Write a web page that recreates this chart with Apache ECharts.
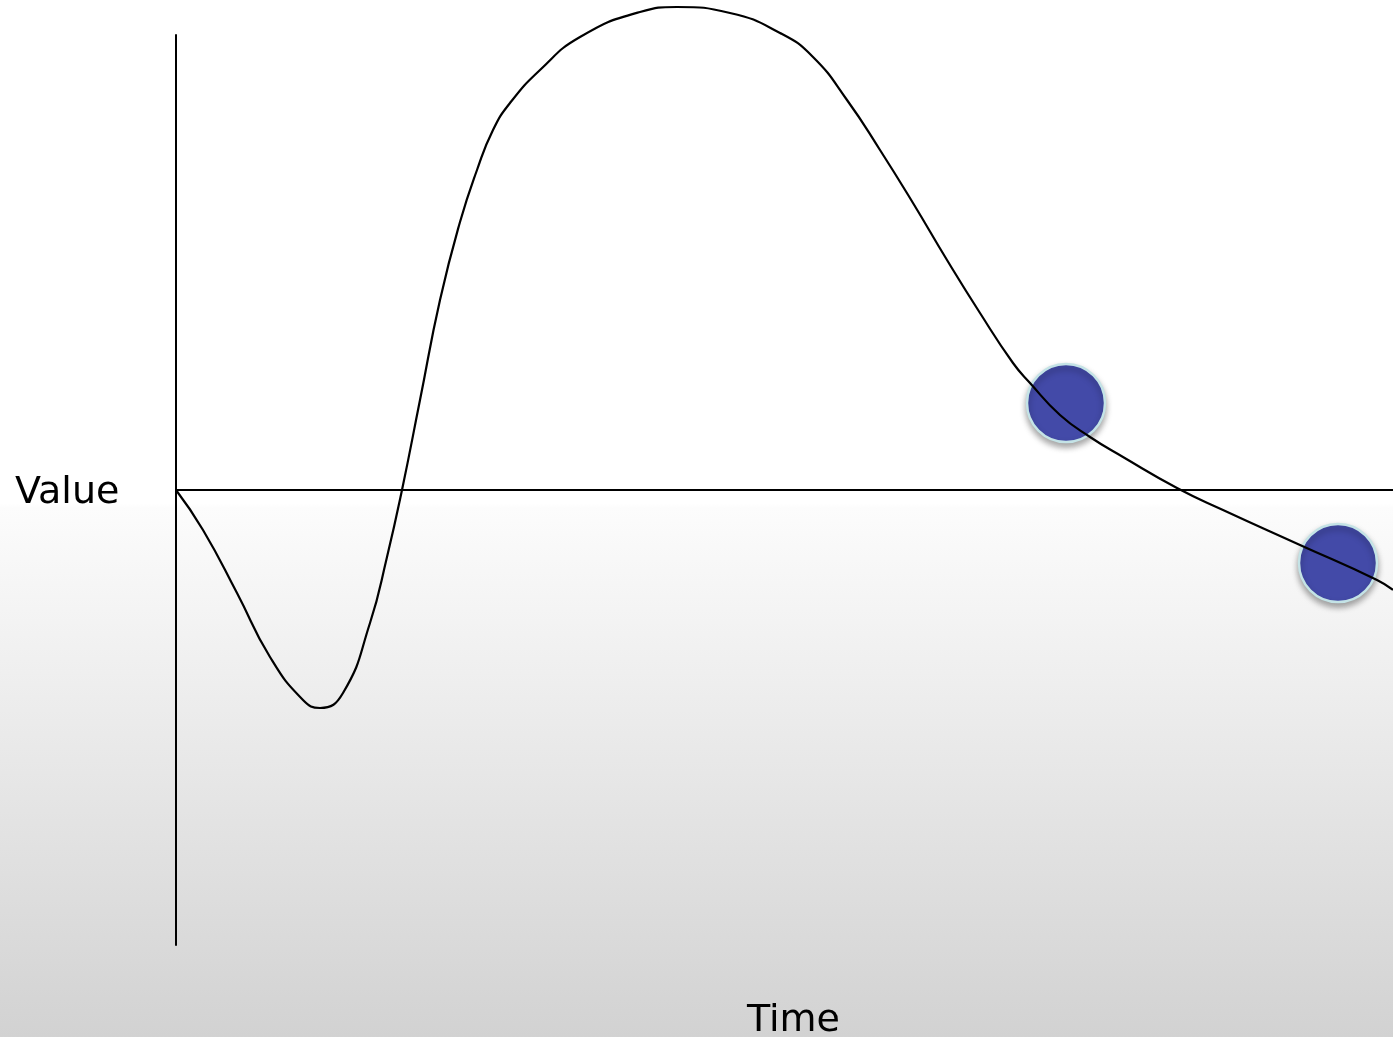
<!DOCTYPE html>
<html>
<head>
<meta charset="utf-8">
<script src="https://cdn.jsdelivr.net/npm/echarts@6/dist/echarts.min.js"></script>
<style>
  html, body { margin: 0; padding: 0; }
  #main { width: 1393px; height: 1037px; }
</style>
</head>
<body>
<div id="main"></div>
<script>
// curve: time offset from origin, value above the time axis
var curveTime  = [0, 27, 61, 94, 127, 144, 167, 194, 211, 226, 244, 264, 284, 301, 317, 334, 364, 404, 464, 501, 554, 604, 637, 671, 704, 737, 771, 804, 837, 854, 884, 914, 947, 1001, 1047, 1124, 1201, 1217];
var curveValue = [0, -40, -103, -167, -210, -218, -203, -133, -67, 0, 90, 190, 268, 320, 360, 387, 420, 453, 478, 483, 477, 457, 433, 390, 340, 287, 230, 177, 127, 107, 75, 53, 33, 2, -20, -55, -90, -100];
// the two marked points
var dotTime  = [890, 1162];
var dotValue = [87, -73];

var dom = document.getElementById("main");
var myChart = echarts.init(dom);

var curveData = curveTime.map(function (t, i) { return [t, curveValue[i]]; });
var dotData = dotTime.map(function (t, i) { return [t, dotValue[i]]; });

var option = {
    animation: false,
    backgroundColor: {
        type: 'linear', x: 0, y: 0, x2: 0, y2: 1,
        colorStops: [
            {offset: 0, color: '#ffffff'},
            {offset: 0.485, color: '#ffffff'},
            {offset: 0.49, color: '#fcfcfc'},
            {offset: 1, color: '#d2d2d2'}
        ]
    },
    grid: {left: 176, right: 0, top: 35, bottom: 92},
    xAxis: {
        type: 'value',
        min: 0, max: 1217,
        axisLine: {onZero: true, lineStyle: {color: '#000', width: 2}},
        axisTick: {show: false},
        axisLabel: {show: false},
        splitLine: {show: false}
    },
    yAxis: {
        type: 'value',
        min: -455, max: 455,
        axisLine: {show: true, onZero: false, lineStyle: {color: '#000', width: 2}},
        axisTick: {show: false},
        axisLabel: {show: false},
        splitLine: {show: false}
    },
    graphic: [
        {type: 'text', left: 15, top: 474, style: {text: 'Value', font: '38px "DejaVu Sans"', fill: '#000'}},
        {type: 'text', left: 747, top: 1002, style: {text: 'Time', font: '38px "DejaVu Sans"', fill: '#000'}}
    ],
    series: [
        {
            type: 'line',
            data: curveData,
            smooth: 0.5,
            clip: false,
            showSymbol: false,
            lineStyle: {color: '#000', width: 2.2},
            silent: true
        },
        {
            type: 'scatter',
            data: dotData,
            symbolSize: 78,
            clip: false,
            itemStyle: {
                color: '#434aa8',
                opacity: 1,
                borderColor: '#c4e3e6',
                borderWidth: 2.5,
                shadowBlur: 6,
                shadowOffsetY: 4,
                shadowColor: 'rgba(0,0,0,0.35)'
            },
            silent: true
        }
    ]
};

if (option && typeof option === "object") {
    myChart.setOption(option, true);
}
</script>
</body>
</html>
